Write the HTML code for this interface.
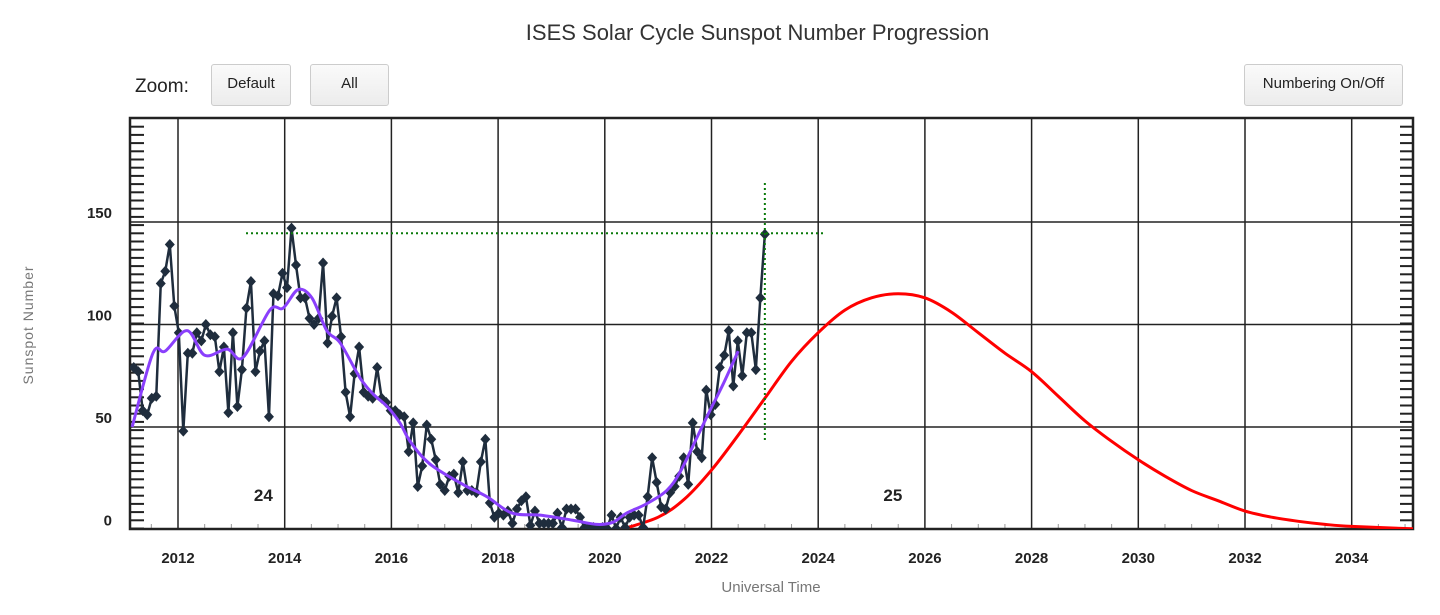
<!DOCTYPE html>
<html><head><meta charset="utf-8"><style>
body{margin:0;background:#fff;width:1440px;height:615px;overflow:hidden;font-family:"Liberation Sans",sans-serif}
.btn{position:absolute;height:42px;border:1px solid #ccc;border-radius:3px;background:linear-gradient(#fafafa,#ececec);font-size:15px;color:#222;text-align:center;line-height:38px;box-sizing:border-box}
</style></head><body>
<div style="position:absolute;left:0;width:1515px;top:20px;text-align:center;font-size:22px;color:#333">ISES Solar Cycle Sunspot Number Progression</div>
<div style="position:absolute;left:135px;top:76px;font-size:19px;color:#222">Zoom:</div>
<div class="btn" style="left:211px;top:64px;width:80px">Default</div>
<div class="btn" style="left:310px;top:64px;width:79px">All</div>
<div class="btn" style="left:1244px;top:64px;width:159px">Numbering On/Off</div>
<svg id="chart" width="1440" height="615" style="position:absolute;left:0;top:0"></svg>
<script>
const monthlyStart=2011.17, monthlyEnd=2023.0;
const monthlyValues=[79,77,58,56,64,65,120,126,139,109,96,48,86,86,96,92,100,95,94,77,89,57,96,60,78,108,121,77,87,92,55,115,114,125,118,147,129,113,113,103,100,103,130,91,104,113,94,67,55,76,89,67,65,64,79,64,62,58,58,56,55,38,52,21,31,51,44,34,22,19,26,27,18,33,19,19,18,33,44,13,6,8,7,9,3,10,14,16,2,9,3,3,3,3,8,1,10,10,10,6,1,1,1,0.5,1,0.5,7,0.5,6,1,6,7,7,1,16,35,23,11,10,18,21,26,35,22,52,38,35,68,56,61,79,85,97,70,92,75,96,96,78,113,144];
const smoothYears=[2011.14,2011.53,2011.76,2012.17,2012.5,2012.92,2013.22,2013.72,2013.97,2014.25,2014.51,2014.79,2015.04,2015.41,2015.66,2015.92,2016.16,2016.35,2016.72,2017.34,2017.79,2018.26,2018.79,2019.4,2019.85,2020.15,2020.41,2020.78,2021.16,2021.41,2021.73,2021.97,2022.22,2022.5];
const smoothValues=[50,86,87,97,85,88,84,107,108,117,113,97,91,74,66,60,52,43,32,22,16,8,7,4.5,2.5,3.5,8,12.5,19,28,45,58,71,87];
const predYears=[2020.3,2021,2021.5,2022,2022.5,2023,2023.5,2024,2024.5,2025,2025.5,2026,2026.5,2027,2027.5,2028,2028.5,2029,2029.5,2030,2030.5,2031,2031.5,2032,2032.5,2033,2033.5,2034,2035.2];
const predValues=[0,6,15,29,46,64,82,96,107,113,115,113,106,96,86,77,65,53,43,34,26,19,14,9,6,4,2.5,1.5,0.3];
const xTicks=[2012,2014,2016,2018,2020,2022,2024,2026,2028,2030,2032,2034];
const yTicks=[0,50,100,150];
const L=130,R=1413,T=118,B=529;
const xs=y=>178+(y-2012)*53.35;
const ys=v=>529.5-v*2.05;
const svg=document.getElementById('chart');const NS='http://www.w3.org/2000/svg';
function mk(t,a,p){const e=document.createElementNS(NS,t);for(const k in a)e.setAttribute(k,a[k]);(p||svg).appendChild(e);return e;}
function smoothPath(pts){let d='M'+pts[0][0]+','+pts[0][1];for(let i=0;i<pts.length-1;i++){const p0=pts[i-1]||pts[i],p1=pts[i],p2=pts[i+1],p3=pts[i+2]||p2;
d+=` C${p1[0]+(p2[0]-p0[0])/6},${p1[1]+(p2[1]-p0[1])/6} ${p2[0]-(p3[0]-p1[0])/6},${p2[1]-(p3[1]-p1[1])/6} ${p2[0]},${p2[1]}`;}return d;}
const clip=mk('clipPath',{id:'pc'});mk('rect',{x:L,y:T,width:R-L,height:B-T},clip);
xTicks.forEach(t=>{const g=mk('line',{x1:xs(t),x2:xs(t),y1:T,y2:B,stroke:'#222','stroke-width':1.5});


const tx=mk('text',{x:xs(t),y:563,'text-anchor':'middle','font-size':15,'font-weight':'bold',fill:'#222'});tx.textContent=t;

});
yTicks.forEach(t=>{if(t>0){const g=mk('line',{x1:L,x2:R,y1:ys(t),y2:ys(t),stroke:'#222','stroke-width':1.5});

}
const tx=mk('text',{x:112,y:ys(t)-4,'text-anchor':'end','font-size':15,'font-weight':'bold',fill:'#222'});tx.textContent=t;

});
for(let v=0;v<=200;v+=4){const y=ys(v)-1;if(y<T+4)continue;mk('line',{x1:L,x2:L+14,y1:y,y2:y,stroke:'#222','stroke-width':2});mk('line',{x1:R-13,x2:R,y1:y,y2:y,stroke:'#222','stroke-width':2});}
for(let yr=2011.5;yr<2035.2;yr+=0.5){if(Number.isInteger(yr/2))continue;mk('line',{x1:xs(yr),x2:xs(yr),y1:B-5,y2:B,stroke:'#999','stroke-width':1});}
const fr=mk('rect',{x:L,y:T,width:R-L,height:B-T,fill:'none',stroke:'#222','stroke-width':2.5});


const pred=mk('path',{d:smoothPath(predYears.map((y,i)=>[xs(y),ys(predValues[i])])),fill:'none',stroke:'#f00','stroke-width':3,'clip-path':'url(#pc)'});


const step=(monthlyEnd-monthlyStart)/(monthlyValues.length-1);
const mx=i=>xs(monthlyStart+i*step);
const ml=mk('path',{d:monthlyValues.map((v,i)=>(i?'L':'M')+mx(i)+','+ys(v)).join(''),fill:'none',stroke:'#1f2d3d','stroke-width':2.5,'clip-path':'url(#pc)'});


monthlyValues.forEach((v,i)=>{const x=mx(i),y=ys(v);const p=mk('polygon',{points:`${x},${y-5.5} ${x+5},${y} ${x},${y+5.5} ${x-5},${y}`,fill:'#1f2d3d','clip-path':'url(#pc)'});

});
const sm=mk('path',{d:smoothPath(smoothYears.map((y,i)=>[xs(y),ys(smoothValues[i])])),fill:'none',stroke:'#8a3ffc','stroke-width':3,'stroke-linejoin':'round'});


const lastV=monthlyValues[monthlyValues.length-1],lastX=xs(monthlyEnd);
const ch=mk('line',{x1:246,x2:826,y1:ys(lastV)-1,y2:ys(lastV)-1,stroke:'#0a7a0a','stroke-width':2,'stroke-dasharray':'2,3'});


const cv=mk('line',{x1:lastX,x2:lastX,y1:183,y2:443,stroke:'#0a7a0a','stroke-width':2,'stroke-dasharray':'2,3'});


[['24',2013.6],['25',2025.4]].forEach(c=>{const t=mk('text',{x:xs(c[1]),y:501,'text-anchor':'middle','font-size':17,'font-weight':'bold',fill:'#222'});t.textContent=c[0];

});
const xt=mk('text',{x:771,y:592,'text-anchor':'middle','font-size':15,fill:'#777'});xt.textContent='Universal Time';


const yt=mk('text',{x:33,y:325,'text-anchor':'middle','font-size':14,fill:'#777',transform:'rotate(-90 33 325)','letter-spacing':'1'});yt.textContent='Sunspot Number';


</script>
</body></html>
